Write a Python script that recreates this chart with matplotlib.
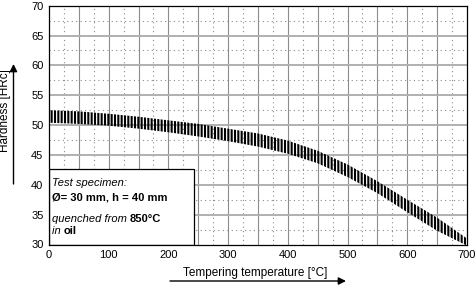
import matplotlib
matplotlib.use("Agg")
import matplotlib.pyplot as plt
import numpy as np

# Data
temperature = [0, 50, 100, 150, 200, 250, 300, 350, 400, 450, 500, 550, 600, 650, 700]
hardness_upper = [52.5, 52.3, 51.9, 51.4, 50.8, 50.2, 49.4, 48.6, 47.4, 45.7, 43.4, 40.6, 37.5, 34.5, 31.0]
hardness_lower = [50.4, 50.2, 49.9, 49.4, 48.8, 48.1, 47.3, 46.4, 45.2, 43.6, 41.3, 38.6, 35.4, 32.3, 29.8]
x_ticks = [0, 100, 200, 300, 400, 500, 600, 700]
y_ticks = [30, 35, 40, 45, 50, 55, 60, 65, 70]

plt.rcParams['font.family'] = ['Liberation Sans', 'DejaVu Sans']
plt.rcParams['hatch.linewidth'] = 1.5

W, H = 477, 286
fig = plt.figure(figsize=(W / 100, H / 100), dpi=100)
ax = fig.add_axes([49 / W, 1 - 244.5 / H, (467 - 49) / W, (244.5 - 5.7) / H])

ax.set_xlim(0, 700)
ax.set_ylim(30, 70)

# grid
for x in np.arange(50, 700, 50):
    ax.axvline(x, color='#8c8c8c', lw=0.8, zorder=1)
for x in np.arange(25, 700, 50):
    ax.axvline(x, color='#8c8c8c', lw=0.8, ls=(0, (1, 3)), zorder=1)
for y in np.arange(35, 70, 5):
    ax.axhline(y, color='#b0b0b0', lw=1.4, zorder=1)
for y in np.arange(32.5, 70, 5):
    ax.axhline(y, color='#8c8c8c', lw=0.8, ls=(0, (1, 3)), zorder=1)

# hardness band
ax.fill_between(temperature, hardness_lower, hardness_upper, facecolor='none',
                edgecolor='black', hatch='|||||', linewidth=0, zorder=3)

# info box
box = plt.Rectangle((0, 30), 242, 12.7, facecolor='white', edgecolor='black',
                    lw=0.9, zorder=4)
ax.add_patch(box)

fs = 8
tx = 5
t1 = ax.text(tx, 39.75, 'Test specimen:', fontsize=fs, style='italic', va='baseline', zorder=5)
t2 = ax.text(tx, 37.4, 'Ø= 30 mm, h = 40 mm', fontsize=fs, weight='bold', va='baseline', zorder=5)
t3 = ax.text(tx, 33.75, 'quenched from ', fontsize=fs, style='italic', va='baseline', zorder=5)
ax.annotate('850°C', xy=(1, 0), xycoords=t3, fontsize=fs, weight='bold',
            va='bottom', ha='left', zorder=5)
t4 = ax.text(tx, 31.75, 'in ', fontsize=fs, style='italic', va='baseline', zorder=5)
ax.annotate('oil', xy=(1, 0), xycoords=t4, fontsize=fs, weight='bold',
            va='bottom', ha='left', zorder=5)

ax.set_xticks(x_ticks)
ax.set_yticks(y_ticks)
ax.tick_params(length=0, labelsize=8, pad=4)
for s in ax.spines.values():
    s.set_color('black')
    s.set_linewidth(0.9)
    s.set_zorder(6)

# axis labels with arrows
fig.text(255 / W, 1 - 273 / H, 'Tempering temperature [°C]', fontsize=8.5,
         ha='center', va='center')
fig.text(5.5 / W, 1 - 111 / H, 'Hardness [HRc]', fontsize=8.5, rotation=90,
         ha='center', va='center')
fig.add_artist(matplotlib.patches.FancyArrowPatch(
    (170 / W, 1 - 281 / H), (346 / W, 1 - 281 / H), transform=fig.transFigure,
    arrowstyle='-|>', mutation_scale=11, lw=1, color='black', shrinkA=0, shrinkB=0))
fig.add_artist(matplotlib.patches.FancyArrowPatch(
    (13.5 / W, 1 - 184 / H), (13.5 / W, 1 - 64 / H), transform=fig.transFigure,
    arrowstyle='-|>', mutation_scale=11, lw=1, color='black', shrinkA=0, shrinkB=0))

fig.savefig('out.png', dpi=100)
